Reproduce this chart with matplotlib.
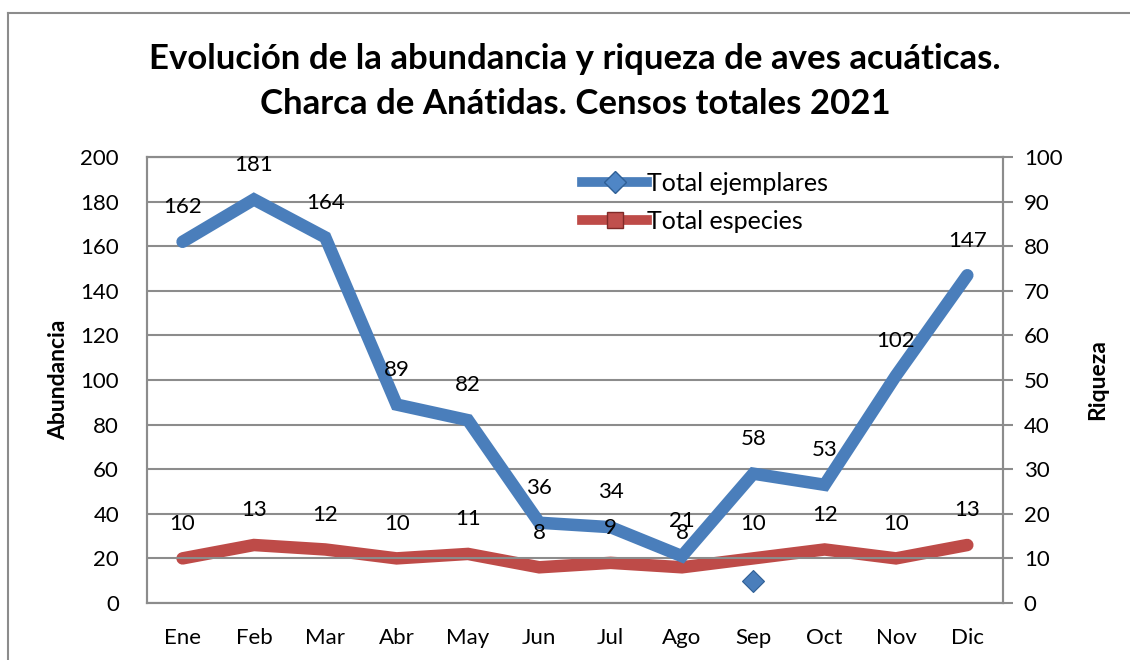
import matplotlib
matplotlib.use("Agg")
import matplotlib.pyplot as plt
from matplotlib.lines import Line2D

months = ["Ene", "Feb", "Mar", "Abr", "May", "Jun", "Jul", "Ago", "Sep", "Oct", "Nov", "Dic"]
ejemplares = [162, 181, 164, 89, 82, 36, 34, 21, 58, 53, 102, 147]
especies = [10, 13, 12, 10, 11, 8, 9, 8, 10, 12, 10, 13]
stray_month = "Sep"
stray_value = 10

title = "Evolución de la abundancia y riqueza de aves acuáticas.\nCharca de Anátidas. Censos totales 2021"
left_label = "Abundancia"
right_label = "Riqueza"
legend_labels = ["Total ejemplares", "Total especies"]

BLUE = "#4A7EBB"
RED = "#BE4B48"
GRID = "#8C8C8C"
FONT = "Lato"

plt.rcParams["font.family"] = [FONT, "DejaVu Sans"]

fig = plt.figure(figsize=(11.3, 6.6), dpi=100)
ax = fig.add_axes([0.130, 0.0864, 0.7576, 0.6756])
ax2 = ax.twinx()

x = list(range(len(months)))

ax.plot(x, ejemplares, color=BLUE, lw=9, solid_capstyle="round", solid_joinstyle="miter", zorder=4)
ax2.plot(x, especies, color=RED, lw=9, solid_capstyle="round", solid_joinstyle="miter", zorder=3)
ax.plot([months.index(stray_month)], [stray_value], marker="D", ms=11, color=BLUE,
        mec="#2F5F95", mew=0.8, ls="none", zorder=5)

for xi, v in zip(x, ejemplares):
    ax.annotate(str(v), (xi, v), xytext=(0, 25), textcoords="offset points",
                ha="center", va="center", fontsize=16, zorder=10)
for xi, v in zip(x, especies):
    ax.annotate(str(v), (xi, v), xycoords=ax2.transData, xytext=(0, 25),
                textcoords="offset points", ha="center", va="center", fontsize=16, zorder=10)

# layering: blue axis on top of red axis
ax.set_zorder(ax2.get_zorder() + 1)
ax.patch.set_visible(False)

ax.set_xlim(-0.5, len(months) - 0.5)
ax.set_ylim(0, 200)
ax.set_yticks(range(0, 201, 20))
ax2.set_ylim(0, 100)
ax2.set_yticks(range(0, 101, 10))
ax.set_xticks(x)
ax.set_xticklabels(months)

ax.grid(axis="y", color=GRID, lw=1.5)
ax.set_axisbelow(True)
for a in (ax, ax2):
    for s in a.spines.values():
        s.set_color(GRID)
        s.set_linewidth(1.5)
ax.tick_params(axis="y", length=0, labelsize=16, pad=20)
ax.tick_params(axis="x", length=0, labelsize=16, pad=18)
ax2.tick_params(axis="y", length=7, width=1.5, color=GRID, labelsize=16, pad=8)

ax.set_ylabel(left_label, fontsize=16.5, fontweight="bold", labelpad=8)
ax2.set_ylabel(right_label, fontsize=16.5, fontweight="bold", labelpad=18)

handles = [
    Line2D([], [], color=BLUE, lw=7, marker="D", ms=11, mfc="#4F86C6", mec="#2F5F95"),
    Line2D([], [], color=RED, lw=7, marker="s", ms=11, mfc="#C0504D", mec="#7F2A28"),
]
leg = ax.legend(handles, legend_labels, loc="upper left", bbox_to_anchor=(0.497, 0.990),
                frameon=False, fontsize=18, handlelength=2.6, handletextpad=0.0,
                labelspacing=0.6, borderaxespad=0)

fig.text(0.509, 0.877, title, ha="center", va="center", fontsize=25, fontweight="bold",
         linespacing=1.5)

# outer chart border (top and left)
fig.add_artist(Line2D([0.007, 1.0], [0.980, 0.980], color="#8C8C8C", lw=1.5, transform=fig.transFigure))
fig.add_artist(Line2D([0.007, 0.007], [0.0, 0.980], color="#8C8C8C", lw=1.5, transform=fig.transFigure))

fig.savefig("out.png", dpi=100)
